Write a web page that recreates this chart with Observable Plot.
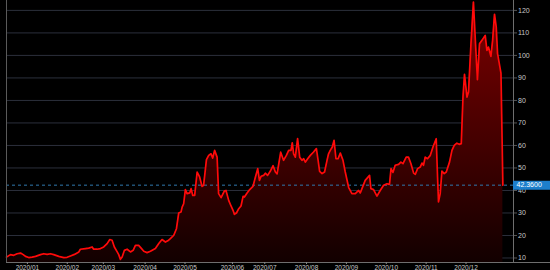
<!DOCTYPE html>
<html>
<head>
<meta charset="utf-8">
<script src="https://cdn.jsdelivr.net/npm/d3@7"></script>
<script src="https://cdn.jsdelivr.net/npm/@observablehq/plot@0.6"></script>
<style>
  html, body { margin: 0; padding: 0; background: #000; }
  svg { display: block; }
</style>
</head>
<body>
<div id="chart"></div>
<script>
// trading-day index and closing value
const day = [
  0, 2.1, 3.8, 5.6, 7.4, 8.8, 10, 11.7, 13.5, 15.3, 17.9, 19.6, 21.4, 23.2, 24.9, 27.5, 30.2, 31.9, 33.7, 35.8,
  38.1, 38.9, 41.6, 43.3, 45.1, 45.9, 47.7, 49.5, 51.2, 53, 54.4, 55.6, 56.8, 58.3, 59.1, 60, 60.9, 62.1, 63.5, 65.3,
  66.7, 67.9, 69.6, 70.9, 72.3, 74, 75.8, 78.4, 80.2, 81.9, 83.7, 85.4, 86.3, 88.1, 89.5, 90.7, 91.9, 92.5, 93.3, 94.2,
  95.1, 96.5, 97.2, 98.1, 99.1, 100.4, 101.7, 103, 103.8, 105.3, 106.5, 107.7, 108.6, 109.6, 110.9, 111.7, 113, 114.7, 115.6, 117,
  118.3, 119.3, 120, 121.1, 122.3, 123.5, 124.6, 125.3, 126.7, 128.1, 129.8, 131.1, 132.3, 133.2, 134.1, 135.4, 136.3, 137.5, 138.9, 140.4,
  141.6, 142.5, 144.4, 145.9, 147.4, 148.6, 149.8, 150.5, 151.2, 152.1, 153.3, 154.4, 155.6, 156.5, 157.4, 158.6, 160, 161.7, 163.2, 164.1,
  164.9, 166.2, 167.5, 168.8, 169.6, 170.5, 171.6, 172.5, 173.5, 174.6, 175.8, 177.2, 178.4, 180.2, 181.9, 183.7, 185.4, 186.3, 187.2, 188.9,
  191.2, 191.9, 193.3, 195.1, 196.8, 198.6, 200.4, 201.7, 202.5, 203.5, 204.7, 206.5, 207.7, 208.8, 210.5, 211.7, 213, 214.4, 215.3, 216.5,
  217.9, 218.8, 219.6, 220.5, 221.7, 223.2, 224.6, 226.3, 227, 227.5, 228.4, 229.3, 230.5, 231.6, 233.3, 234.6, 235.8, 237.2, 238.4, 239.5,
  240.4, 241.2, 242.5, 243.3, 244.6, 245.9, 247, 248, 249.1, 250.4, 252.1, 253, 253.8, 255.1, 256, 257, 257.9, 258.6, 260.4, 261.4
];
const value = [
  10.4, 11.5, 11.2, 11.9, 12.2, 11.5, 10.7, 10.2, 10.4, 10.7, 11.5, 11.9, 11.6, 11.9, 11.5, 10.7, 10.2, 10.3, 10.9, 11.6,
  12.7, 13.9, 14.2, 14.4, 14.9, 13.9, 13.9, 14.2, 14.9, 16.4, 18.2, 17.9, 14.9, 12.7, 11.5, 9.4, 10.4, 13.4, 13.9, 12.7,
  13.4, 15.6, 15.6, 14.4, 13, 12.4, 13, 14.2, 16.4, 18.2, 17.1, 17.9, 18.6, 20.1, 23, 30, 30.4, 32.6, 34.1, 40.4,
  38.6, 38.9, 40.8, 37.8, 37.8, 48.2, 46, 41.8, 42.3, 53.7, 55.6, 56.3, 54.4, 57.8, 54.8, 38.6, 36.8, 39.7, 40, 35.6,
  33, 31.2, 29.4, 30, 31.9, 33.1, 37.4, 37.1, 38.9, 40.4, 41.8, 46, 49.7, 44.5, 46.3, 46.7, 47.7, 46.7, 48.5, 51,
  48.2, 47.4, 57, 53.4, 55.6, 57.8, 57.8, 61.2, 56.3, 54.8, 63, 54.8, 53.4, 54.1, 52.6, 54.1, 55.6, 57.1, 58.6, 53.4,
  48.5, 47.5, 48.2, 53.4, 56.3, 57.8, 59.3, 62.3, 54.1, 54.1, 56.6, 53.4, 48.2, 41.3, 38.6, 38.6, 40, 38.9, 40.8, 44.5,
  46.7, 40.8, 40.4, 37.5, 40, 42.3, 43, 42.7, 49.7, 48, 51.2, 51.6, 52.6, 51.9, 54.8, 54.8, 51.9, 47.7, 47.2, 49.7,
  50.4, 52.2, 51.2, 54.8, 54.1, 55.6, 59.3, 63, 46, 34.9, 38.6, 48.6, 47.5, 48.2, 52.6, 57.8, 60, 61, 60.5, 60.8,
  81.5, 91.6, 81.5, 83.7, 105.2, 123.7, 105.2, 89.2, 105.2, 106.7, 108.9, 102.2, 103.7, 99.6, 106.7, 118.3, 112.7, 100.8, 92.1, 42.36
];
const monthDays = [11, 32, 51, 73, 94, 119, 136, 158, 179, 200, 221, 242];
const monthLabels = ["2020/01", "2020/02", "2020/03", "2020/04", "2020/05", "2020/06",
                     "2020/07", "2020/08", "2020/09", "2020/10", "2020/11", "2020/12"];
const yTicks = [10, 20, 30, 40, 50, 60, 70, 80, 90, 100, 110, 120];
const xDomain = [0, 267];
const yDomain = [8, 124.4];
const badgeEnd = 290;

const data = day.map((d, i) => ({day: d, value: value[i]}));
const last = value[value.length - 1];

const svg = Plot.plot({
  width: 550,
  height: 270,
  marginTop: 0,
  marginBottom: 8,
  marginLeft: 6,
  marginRight: 37,
  style: {background: "#000", color: "#c8c8c8", fontFamily: "'Liberation Sans', Arial, sans-serif", overflow: "visible"},
  x: {domain: xDomain, axis: null},
  y: {domain: yDomain, axis: null},
  marks: [
    Plot.ruleY(yTicks, {stroke: "#2b2f3b", strokeWidth: 1}),
    Plot.areaY(data, {x: "day", y1: () => yDomain[0], y2: "value", fill: "url(#redfade)"}),
    Plot.ruleY([last], {stroke: "#2f79ad", strokeDasharray: "3,3", strokeWidth: 1}),
    Plot.lineY(data, {x: "day", y: "value", stroke: "#ff0a0a", strokeWidth: 1.7, strokeLinejoin: "round"}),
    Plot.ruleX([xDomain[0]], {stroke: "#5a5a5a"}),
    Plot.ruleX([xDomain[1]], {stroke: "#6e6e6e"}),
    Plot.ruleY([yDomain[0]], {stroke: "#6e6e6e", x1: xDomain[0], x2: badgeEnd}),
    Plot.axisY({anchor: "right", ticks: yTicks, tickSize: 3, tickPadding: 1.5, fontSize: 7, stroke: "#555", fill: "#c8c8c8", label: null}),
    Plot.axisX({anchor: "bottom", ticks: monthDays, tickFormat: (d, i) => monthLabels[i], tickSize: 2, tickPadding: 1, fontSize: 6.5, stroke: "#888", fill: "#c8c8c8", label: null}),
    Plot.ruleY([last], {x1: xDomain[1], x2: badgeEnd, stroke: "#1d7fcc", strokeWidth: 9}),
    Plot.text([last], {x: xDomain[1], y: d => d, text: d => d.toFixed(4), textAnchor: "start", dx: 3, fill: "#fff", fontSize: 7})
  ]
});

const defs = d3.select(svg).insert("defs", ":first-child");
const grad = defs.append("linearGradient").attr("id", "redfade")
  .attr("x1", 0).attr("x2", 0).attr("y1", 0).attr("y2", 1);
grad.append("stop").attr("offset", "0%").attr("stop-color", "#7e0000");
grad.append("stop").attr("offset", "100%").attr("stop-color", "#120000");

document.getElementById("chart").appendChild(svg);
</script>
</body>
</html>
